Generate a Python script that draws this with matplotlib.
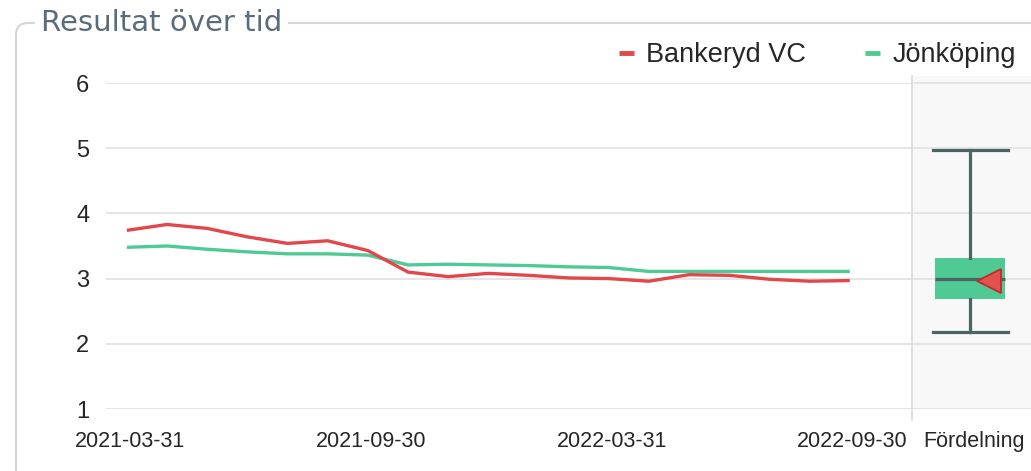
import numpy as np
import matplotlib.pyplot as plt
from matplotlib.lines import Line2D
from matplotlib.patches import FancyBboxPatch
from matplotlib.transforms import IdentityTransform

months = ['2021-03-31', '2021-04-30', '2021-05-31', '2021-06-30', '2021-07-31',
          '2021-08-31', '2021-09-30', '2021-10-31', '2021-11-30', '2021-12-31',
          '2022-01-31', '2022-02-28', '2022-03-31', '2022-04-30', '2022-05-31',
          '2022-06-30', '2022-07-31', '2022-08-31', '2022-09-30']
bankeryd = [3.74, 3.83, 3.77, 3.64, 3.54, 3.58, 3.43, 3.10, 3.03, 3.08,
            3.05, 3.01, 3.00, 2.96, 3.06, 3.05, 2.99, 2.96, 2.97]
jonkoping = [3.48, 3.50, 3.45, 3.41, 3.38, 3.38, 3.36, 3.21, 3.22, 3.21,
             3.20, 3.18, 3.17, 3.11, 3.11, 3.11, 3.11, 3.11, 3.11]
tick_months = ['2021-03-31', '2021-09-30', '2022-03-31', '2022-09-30']

# distribution (Fördelning)
dist_min, dist_q1, dist_med, dist_q3, dist_max = 2.18, 2.69, 3.00, 3.32, 4.98

RED = '#e2474b'
GREEN = '#4fca94'
DARK = '#4b6464'
GRID = '#e3e3e3'
TXT = '#262626'

W, H = 1031, 471
fig = plt.figure(figsize=(W / 100, H / 100), dpi=100)


def fx(px):
    return px / W


def fy(py):
    return 1 - py / H


# main line chart
ax = fig.add_axes([fx(106), fy(409), fx(912) - fx(106), fy(83) - fy(409)])
x = np.arange(len(months))
ax.plot(x, bankeryd, color=RED, lw=2.4, solid_capstyle='butt', zorder=3)
ax.plot(x, jonkoping, color=GREEN, lw=2.4, solid_capstyle='butt', zorder=2)
ax.set_xlim(-0.52, 19.55)
ax.set_ylim(1, 6)
ax.set_yticks([1, 2, 3, 4, 5, 6])
ax.set_xticks([months.index(m) + 0.07 for m in tick_months])
ax.set_xticklabels(tick_months)
ax.grid(axis='y', color=GRID, lw=1.3)
ax.tick_params(axis='y', length=0, pad=12, labelsize=17, labelcolor=TXT)
ax.tick_params(axis='x', length=0, pad=16, labelsize=15.5, labelcolor=TXT)
for lab in ax.get_xticklabels() + ax.get_yticklabels():
    lab.set_fontfamily('Liberation Sans')
for s in ax.spines.values():
    s.set_visible(False)

# distribution panel
bx = fig.add_axes([fx(912), fy(409), 1 - fx(912), fy(76) - fy(409)])
bx.set_facecolor('#f8f8f8')
bx.set_xlim(0, 1)
bx.set_ylim(1, 6 + 7 / 65.2)
bx.set_yticks([1, 2, 3, 4, 5, 6])
bx.set_yticklabels([])
bx.grid(axis='y', color=GRID, lw=1.3)
stats = [dict(whislo=dist_min, q1=dist_q1, med=dist_med, q3=dist_q3,
              whishi=dist_max, fliers=[])]
bx.bxp(stats, positions=[0.49], widths=[0.59], capwidths=[0.63],
       patch_artist=True, showfliers=False,
       boxprops=dict(facecolor=GREEN, edgecolor=GREEN, lw=0),
       medianprops=dict(color=DARK, lw=2.3),
       whiskerprops=dict(color=DARK, lw=2.3),
       capprops=dict(color=DARK, lw=2.3))
bx.plot([0.645], [bankeryd[-1]], marker='<', markersize=17,
        color='#e4524f', markeredgecolor='#c02a2a', markeredgewidth=1.3,
        zorder=5)
bx.set_xticks([0.52])
bx.set_xticklabels(['Fördelning'])
bx.tick_params(axis='x', length=0, pad=16, labelsize=15.5, labelcolor=TXT)
bx.tick_params(axis='y', length=0)
for lab in bx.get_xticklabels():
    lab.set_fontfamily('Liberation Sans')
for s in bx.spines.values():
    s.set_visible(False)

# separator line between panels
fig.add_artist(Line2D([fx(912), fx(912)], [fy(76), fy(420)],
                      transform=fig.transFigure, color='#dadada', lw=1.2))

# outer frame with title
frame = FancyBboxPatch((16, -60), W + 60, H - 23 + 60,
                       boxstyle='round,pad=0,rounding_size=12',
                       transform=IdentityTransform(), fill=False,
                       ec='#d6d6d6', lw=1.5)
fig.add_artist(frame)
fig.text(fx(41), fy(23), 'Resultat över tid', fontsize=21,
         family='DejaVu Sans', color='#5a6b7b', va='center', ha='left',
         bbox=dict(fc='white', ec='none', pad=4))

# legend
handles = [Line2D([], [], color=RED, lw=3.5, solid_capstyle='butt'),
           Line2D([], [], color=GREEN, lw=3.5, solid_capstyle='butt')]
fig.legend(handles, ['Bankeryd VC', 'Jönköping'], loc='center right',
           bbox_to_anchor=(fx(1016), fy(55)), ncol=2, frameon=False,
           handlelength=0.55, handletextpad=0.45, columnspacing=2.2,
           borderpad=0, borderaxespad=0,
           prop=dict(family='Liberation Sans', size=19.5),
           labelcolor=TXT)

fig.savefig('out.png', dpi=100)
